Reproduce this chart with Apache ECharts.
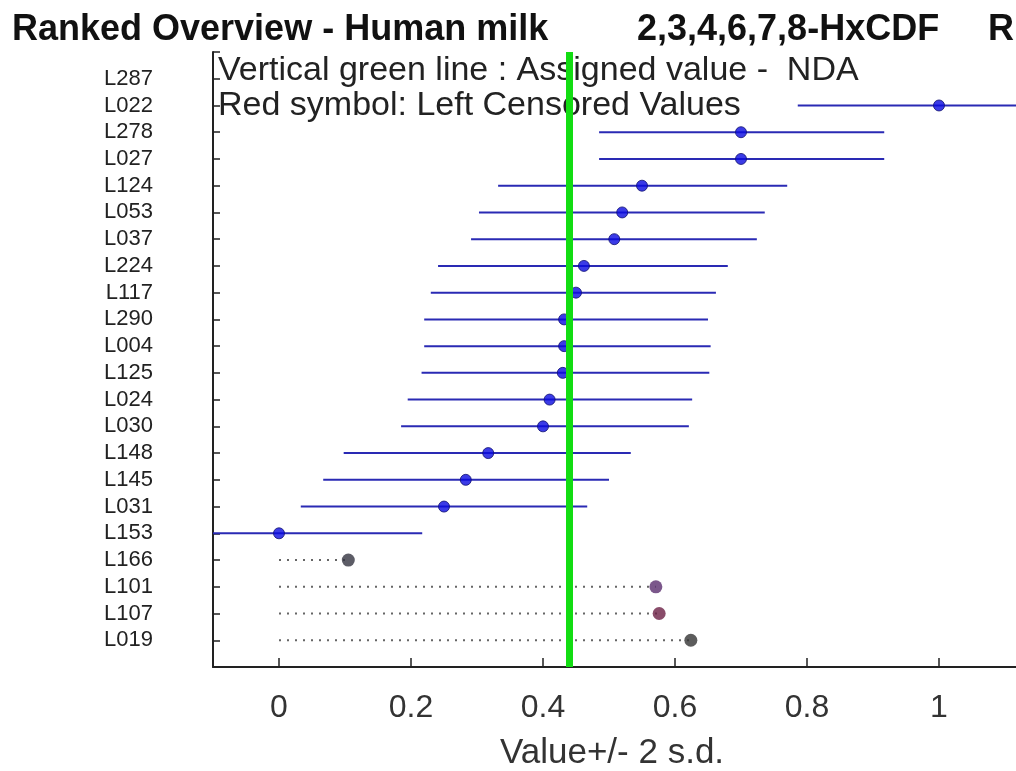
<!DOCTYPE html>
<html>
<head>
<meta charset="utf-8">
<script src="https://cdn.jsdelivr.net/npm/echarts@6/dist/echarts.min.js"></script>
<style>
  html, body { margin: 0; padding: 0; background: #fff; }
  #chart { width: 1016px; height: 771px; }
</style>
</head>
<body>
<div id="chart"></div>
<script>
// labs from top to bottom
var labs = ["L287", "L022", "L278", "L027", "L124", "L053", "L037", "L224", "L117", "L290", "L004",
  "L125", "L024", "L030", "L148", "L145", "L031", "L153", "L166", "L101", "L107", "L019"];
// reported values (null = nothing drawn)
var values = [null, 1.0, 0.70, 0.70, 0.55, 0.52, 0.508, 0.462, 0.45, 0.432, 0.432,
  0.43, 0.41, 0.40, 0.317, 0.283, 0.25, 0.0, null, null, null, null];
// +/- 2 s.d. ranges
var lows = [null, 0.786, 0.485, 0.485, 0.332, 0.303, 0.291, 0.241, 0.230, 0.220, 0.220,
  0.216, 0.195, 0.185, 0.098, 0.067, 0.033, -0.217, null, null, null, null];
var highs = [null, 1.214, 0.917, 0.917, 0.770, 0.736, 0.724, 0.680, 0.662, 0.650, 0.654,
  0.652, 0.626, 0.621, 0.533, 0.500, 0.467, 0.217, null, null, null, null];
// left censored values
var censLabs = ["L166", "L101", "L107", "L019"];
var censValues = [0.105, 0.571, 0.576, 0.624];
var censColors = ["#333340", "#5a2d6e", "#6b1f45", "#333333"];
var assigned = 0.439;
var xTicks = [0, 0.2, 0.4, 0.6, 0.8, 1];

var chart = echarts.init(document.getElementById("chart"));

var cats = [""].concat(labs).concat([""]);

var barData = [];
var pointData = [];
for (var i = 0; i < labs.length; i++) {
  if (values[i] === null) continue;
  barData.push([lows[i], highs[i], labs[i]]);
  pointData.push([values[i], labs[i]]);
}
var censLines = [];
var censPoints = [];
for (var j = 0; j < censLabs.length; j++) {
  censLines.push([0, censValues[j], censLabs[j]]);
  censPoints.push({ value: [censValues[j], censLabs[j]], itemStyle: { color: censColors[j] } });
}

function hLine(dash, color, width) {
  return function (params, api) {
    var a = api.coord([api.value(0), api.value(2)]);
    var b = api.coord([api.value(1), api.value(2)]);
    return {
      type: "line",
      shape: { x1: a[0], y1: a[1], x2: b[0], y2: b[1] },
      style: { stroke: color, lineWidth: width, lineDash: dash }
    };
  };
}

var font = "'Liberation Sans', Arial, sans-serif";

var option = {
  animation: false,
  backgroundColor: "#fff",
  grid: { left: 213, top: 52, bottom: 104, width: 858, containLabel: false, outerBoundsMode: "none" },
  xAxis: {
    type: "value",
    min: -0.1,
    max: 1.2,
    interval: 0.1,
    splitLine: { show: false },
    axisLine: { show: true, onZero: false, lineStyle: { color: "#222", width: 2 } },
    axisTick: {
      show: true, inside: true, length: 9, lineStyle: { color: "#222", width: 1.5 },
      customValues: xTicks
    },
    axisLabel: {
      fontFamily: font, fontSize: 32, color: "#333", margin: 25,
      customValues: xTicks,
      formatter: function (v) { return String(+v.toFixed(1)); }
    }
  },
  yAxis: {
    type: "category",
    data: cats,
    inverse: true,
    boundaryGap: false,
    axisLine: { onZero: false, lineStyle: { color: "#222", width: 2 } },
    axisTick: { inside: true, length: 7, lineStyle: { color: "#222", width: 1.5 } },
    axisLabel: { fontFamily: font, fontSize: 22, color: "#222", margin: 60, interval: 0 },
    splitLine: { show: false }
  },
  graphic: [
    { type: "text", left: 12, top: 12, z: 1,
      style: { text: "Ranked Overview - Human milk", font: "bold 36px " + font, fill: "#111" } },
    { type: "text", left: 637, top: 12, z: 1,
      style: { text: "2,3,4,6,7,8-HxCDF", font: "bold 36px " + font, fill: "#111" } },
    { type: "text", left: 988, top: 12, z: 1,
      style: { text: "R", font: "bold 36px " + font, fill: "#111" } },
    { type: "text", left: 218, top: 54, z: 1,
      style: { text: "Vertical green line : Assigned value -  NDA", font: "34px " + font, fill: "#222" } },
    { type: "text", left: 218, top: 89, z: 1,
      style: { text: "Red symbol: Left Censored Values", font: "34px " + font, fill: "#222" } },
    { type: "text", left: 500, top: 736, z: 1,
      style: { text: "Value+/- 2 s.d.", font: "35px " + font, fill: "#333" } }
  ],
  series: [
    {
      type: "custom",
      name: "range",
      data: barData,
      clip: true,
      z: 3,
      encode: { x: [0, 1], y: 2 },
      renderItem: hLine(null, "#2a2ab4", 2)
    },
    {
      type: "custom",
      name: "censored",
      data: censLines,
      clip: true,
      z: 3,
      encode: { x: [0, 1], y: 2 },
      renderItem: hLine([2, 6], "#666", 2)
    },
    {
      type: "scatter",
      name: "value",
      data: pointData,
      symbol: "circle",
      symbolSize: 11,
      itemStyle: { color: "#0a0ae0", borderColor: "#101070", borderWidth: 1 },
      z: 4,
      clip: true
    },
    {
      type: "scatter",
      name: "cens",
      data: censPoints,
      symbol: "circle",
      symbolSize: 13,
      z: 4
    },
    {
      type: "line",
      name: "assigned",
      data: [],
      z: 6,
      markLine: {
        silent: true,
        symbol: "none",
        label: { show: false },
        lineStyle: { color: "#12dd12", width: 7, type: "solid" },
        data: [{ xAxis: assigned }]
      }
    }
  ]
};
chart.setOption(option);
</script>
</body>
</html>
